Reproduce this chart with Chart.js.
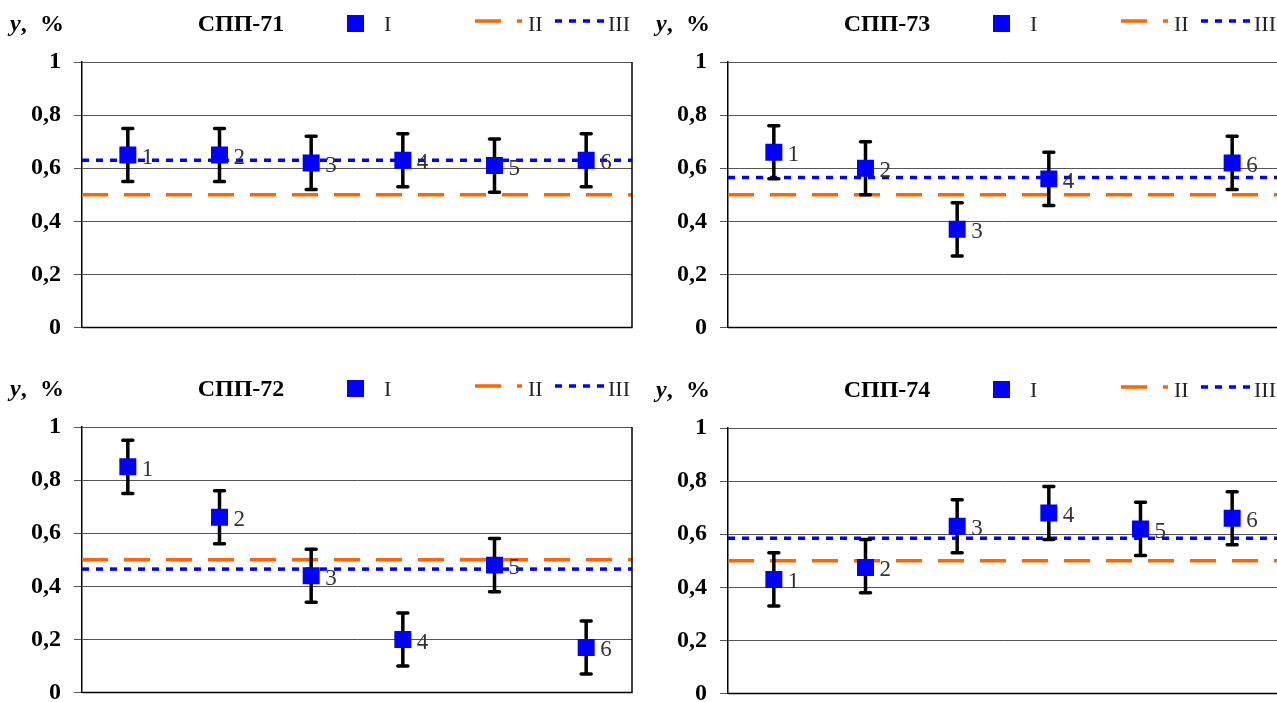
<!DOCTYPE html>
<html>
<head>
<meta charset="utf-8">
<script src="https://cdn.jsdelivr.net/npm/chart.js@4.4.0/dist/chart.umd.min.js"></script>
<style>
  html, body { margin: 0; padding: 0; background: #fff; overflow: hidden; }
  body { width: 1277px; height: 702px; position: relative; }
  canvas { position: absolute; }
</style>
</head>
<body>
<canvas id="c71" width="640" height="355" style="left:0;top:0"></canvas>
<canvas id="c73" width="640" height="355" style="left:646px;top:0"></canvas>
<canvas id="c72" width="640" height="355" style="left:0;top:365px"></canvas>
<canvas id="c74" width="640" height="355" style="left:646px;top:366px"></canvas>
<script>
// shared labels
const categories = ["1", "2", "3", "4", "5", "6"];
const yTickLabels = ["0", "0,2", "0,4", "0,6", "0,8", "1"];
const seriesNames = ["I", "II", "III"];

// СПП-71
const spp71Values = [0.65, 0.65, 0.62, 0.63, 0.61, 0.63];
const spp71Low = [0.55, 0.55, 0.52, 0.53, 0.51, 0.53];
const spp71High = [0.75, 0.75, 0.72, 0.73, 0.71, 0.73];
const spp71LevelII = 0.5;
const spp71LevelIII = 0.63;

// СПП-73 (no point 5)
const spp73Values = [0.66, 0.6, 0.37, 0.56, null, 0.62];
const spp73Low = [0.56, 0.5, 0.27, 0.46, null, 0.52];
const spp73High = [0.76, 0.7, 0.47, 0.66, null, 0.72];
const spp73LevelII = 0.5;
const spp73LevelIII = 0.565;

// СПП-72
const spp72Values = [0.85, 0.66, 0.44, 0.2, 0.48, 0.17];
const spp72Low = [0.75, 0.56, 0.34, 0.1, 0.38, 0.07];
const spp72High = [0.95, 0.76, 0.54, 0.3, 0.58, 0.27];
const spp72LevelII = 0.5;
const spp72LevelIII = 0.465;

// СПП-74
const spp74Values = [0.43, 0.475, 0.63, 0.68, 0.62, 0.66];
const spp74Low = [0.33, 0.38, 0.53, 0.58, 0.52, 0.56];
const spp74High = [0.53, 0.58, 0.73, 0.78, 0.72, 0.76];
const spp74LevelII = 0.5;
const spp74LevelIII = 0.585;

const SERIF = "'Liberation Serif', 'Times New Roman', serif";
const BLUE = "#0000ff";
const ORANGE = "#ff6600";

// error bars go under the squares
const errorBars = {
  id: "errorBars",
  beforeDatasetDraw(chart, args, opts) {
    if (args.index !== 0) return;
    const ctx = chart.ctx;
    const x = chart.scales.x;
    const y = chart.scales.y;
    ctx.save();
    ctx.strokeStyle = "#000";
    ctx.lineWidth = 3.5;
    ctx.lineCap = "round";
    opts.low.forEach((lo, i) => {
      const hi = opts.high[i];
      if (lo == null || hi == null) return;
      const px = x.getPixelForValue(i + 0.5);
      const pLo = y.getPixelForValue(lo);
      const pHi = y.getPixelForValue(hi);
      ctx.beginPath();
      ctx.moveTo(px, pLo);
      ctx.lineTo(px, pHi);
      ctx.moveTo(px - 5, pLo);
      ctx.lineTo(px + 5, pLo);
      ctx.moveTo(px - 5, pHi);
      ctx.lineTo(px + 5, pHi);
      ctx.stroke();
    });
    ctx.restore();
  }
};

const pointNumbers = {
  id: "pointNumbers",
  afterDatasetsDraw(chart) {
    const ctx = chart.ctx;
    const meta = chart.getDatasetMeta(0);
    ctx.save();
    ctx.font = "23px " + SERIF;
    ctx.fillStyle = "#333";
    ctx.textBaseline = "middle";
    meta.data.forEach((pt, i) => {
      if (pt.skip) return;
      ctx.fillText(categories[i], pt.x + 14, pt.y + 3);
    });
    ctx.restore();
  }
};

const frame = {
  id: "frame",
  afterDraw(chart) {
    const { ctx, chartArea: a } = chart;
    ctx.save();
    ctx.strokeStyle = "#000";
    ctx.lineWidth = 1.5;
    ctx.beginPath();
    ctx.moveTo(a.left, a.bottom);
    ctx.lineTo(a.right, a.bottom);
    ctx.lineTo(a.right, a.top);
    ctx.stroke();
    ctx.restore();
  }
};

const header = {
  id: "header",
  afterDraw(chart, args, opts) {
    const ctx = chart.ctx;
    const ds = chart.data.datasets;
    const cy = 25;
    ctx.save();
    ctx.textBaseline = "middle";
    ctx.fillStyle = "#000";
    ctx.font = "italic bold 24px " + SERIF;
    ctx.fillText("y", 10, cy);
    const wy = ctx.measureText("y").width;
    ctx.font = "bold 24px " + SERIF;
    ctx.fillText(",", 10 + wy, cy);
    ctx.fillText("%", 40, cy);
    ctx.textAlign = "center";
    ctx.fillText(opts.title, 241, cy);

    // legend
    ctx.textAlign = "left";
    ctx.font = "22px " + SERIF;
    ctx.fillStyle = ds[0].backgroundColor;
    ctx.fillRect(347, cy - 10, 17, 17);
    ctx.fillStyle = "#222";
    ctx.fillText(ds[0].label, 384, cy);

    ctx.lineWidth = ds[1].borderWidth;
    ctx.strokeStyle = ds[1].borderColor;
    ctx.setLineDash(ds[1].borderDash);
    ctx.beginPath();
    ctx.moveTo(475, cy - 4);
    ctx.lineTo(522, cy - 4);
    ctx.stroke();
    ctx.fillText(ds[1].label, 528, cy);

    ctx.strokeStyle = ds[2].borderColor;
    ctx.setLineDash(ds[2].borderDash);
    ctx.beginPath();
    ctx.moveTo(555, cy - 4);
    ctx.lineTo(605, cy - 4);
    ctx.stroke();
    ctx.fillText(ds[2].label, 608, cy);
    ctx.restore();
  }
};

function buildChart(id, title, values, low, high, levelII, levelIII) {
  const points = values.map((v, i) => ({ x: i + 0.5, y: v }));
  new Chart(document.getElementById(id), {
    type: "scatter",
    data: {
      datasets: [
        {
          label: seriesNames[0],
          data: points,
          pointStyle: "rect",
          pointRadius: 12,
          pointHoverRadius: 12,
          backgroundColor: BLUE,
          borderWidth: 0,
          order: 0,
        },
        {
          type: "line",
          label: seriesNames[1],
          data: [{ x: 0, y: levelII }, { x: 6, y: levelII }],
          borderColor: ORANGE,
          borderWidth: 3.5,
          borderDash: [26, 16],
          pointRadius: 0,
          order: 2,
        },
        {
          type: "line",
          label: seriesNames[2],
          data: [{ x: 0, y: levelIII }, { x: 6, y: levelIII }],
          borderColor: BLUE,
          borderWidth: 3.5,
          borderDash: [7, 7],
          pointRadius: 0,
          order: 1,
        },
      ],
    },
    options: {
      responsive: false,
      animation: false,
      events: [],
      layout: { autoPadding: false, padding: { left: 0, top: 62, right: 8, bottom: 0 } },
      plugins: {
        legend: { display: false },
        tooltip: { enabled: false },
        errorBars: { low, high },
        header: { title },
      },
      scales: {
        x: {
          type: "linear",
          display: false,
          min: 0,
          max: 6,
        },
        y: {
          min: 0,
          max: 1,
          ticks: {
            stepSize: 0.2,
            padding: 13,
            color: "#000",
            font: { family: SERIF, size: 24, weight: "bold" },
            callback: (v) => yTickLabels[Math.round(v * 5)],
          },
          grid: { color: "#555", lineWidth: 1, tickLength: 8 },
          border: { display: true, color: "#000", width: 1.5 },
          afterFit: (s) => { s.width = 82; },
        },
      },
    },
    plugins: [errorBars, pointNumbers, frame, header],
  });
}

buildChart("c71", "СПП-71", spp71Values, spp71Low, spp71High, spp71LevelII, spp71LevelIII);
buildChart("c73", "СПП-73", spp73Values, spp73Low, spp73High, spp73LevelII, spp73LevelIII);
buildChart("c72", "СПП-72", spp72Values, spp72Low, spp72High, spp72LevelII, spp72LevelIII);
buildChart("c74", "СПП-74", spp74Values, spp74Low, spp74High, spp74LevelII, spp74LevelIII);
</script>
</body>
</html>
